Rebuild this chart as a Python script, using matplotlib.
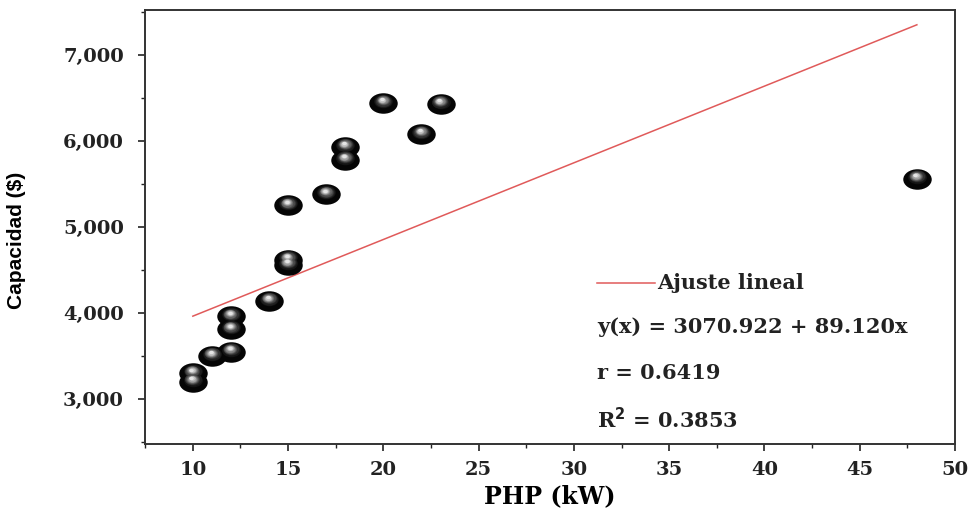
import matplotlib
matplotlib.use("Agg")
import matplotlib.pyplot as plt
import matplotlib.transforms as mtransforms
from matplotlib.path import Path
import numpy as np

# data
php_kw = [10, 10, 11, 12, 12, 12, 14, 15, 15, 15, 17, 18, 18, 20, 22, 23, 48]
capacidad = [3300, 3200, 3500, 3960, 3810, 3550, 4140, 4620, 4560, 5250,
             5380, 5930, 5780, 6440, 6080, 6430, 5560]
fit_a = 3070.922
fit_b = 89.120
fit_x = [10, 48]
x_ticks = [10, 15, 20, 25, 30, 35, 40, 45, 50]
y_ticks = [3000, 4000, 5000, 6000, 7000]

plt.rcParams['font.family'] = ['DejaVu Serif']

fig = plt.figure(figsize=(9.72, 5.15), dpi=100)
ax = fig.add_axes([0.149, 0.138, 0.8335, 0.843])
ax.set_xlim(7.48, 50)
ax.set_ylim(2477, 7523)

# ellipse marker (flattened circle)
circ = Path.unit_circle()
ell = Path(circ.vertices * np.array([1.0, 0.72]), circ.codes)

# fake 3d spheres: black body, then a soft highlight stacked on top
ax.plot(php_kw, capacidad, linestyle='none', marker=ell, markersize=20.5,
        markerfacecolor='#050505', markeredgecolor='none', zorder=3)
n_layers = 9
for i in range(n_layers):
    t = i / (n_layers - 1)
    size = 20.5 * (0.66 - 0.5 * t)
    shade = 0.08 + 0.82 * t ** 1.4
    col = (shade, shade, shade)
    off = mtransforms.ScaledTranslation(-1.0 * t / 72, (1.5 + 1.0 * t) / 72, fig.dpi_scale_trans)
    ax.plot(php_kw, capacidad, linestyle='none', marker=ell, markersize=size,
            markerfacecolor=col, markeredgecolor='none', zorder=4 + i,
            transform=ax.transData + off)

fx = np.array(fit_x)
ax.plot(fx, fit_a + fit_b * fx, color='#e05a5a', lw=1.1, zorder=2)

ax.set_xticks(x_ticks)
ax.set_yticks(y_ticks)
ax.set_xticks(np.arange(7.5, 50.1, 2.5), minor=True)
ax.set_yticks(np.arange(2500, 7501, 500), minor=True)
ax.set_yticklabels(['{:,}'.format(v) for v in y_ticks])
ax.tick_params(which='major', direction='out', length=5, width=1.2, labelsize=14, colors='#222222')
ax.tick_params(axis='y', pad=10)
ax.tick_params(axis='x', pad=7)
ax.tick_params(which='minor', direction='out', length=3, width=1.0, colors='#222222')
for lab in ax.get_xticklabels() + ax.get_yticklabels():
    lab.set_fontweight('bold')
for s in ax.spines.values():
    s.set_linewidth(1.4)
    s.set_color('#333333')

ax.set_xlabel('PHP (kW)', fontsize=17, fontweight='bold')
ax.xaxis.set_label_coords(0.5, -0.093)
ax.set_ylabel('Capacidad (\\$)', fontsize=15, family=['Liberation Sans'], fontweight='bold')
ax.yaxis.set_label_coords(-0.147, 0.47)

# legend-like annotations
W, H = 972, 515
fig.add_artist(plt.Line2D([597 / W, 655 / W], [1 - 283 / H, 1 - 283 / H], color='#e05a5a', lw=1.1))
tkw = dict(fontsize=15, fontweight='bold', va='center', color='#222222')
fig.text(657 / W, 1 - 283 / H, 'Ajuste lineal', **tkw)
fig.text(597 / W, 1 - 327 / H, 'y(x) = 3070.922 + 89.120x', **tkw)
fig.text(597 / W, 1 - 373 / H, 'r = 0.6419', **tkw)
fig.text(597 / W, 1 - 420 / H, 'R$^\\mathbf{2}$ = 0.3853', **tkw)

fig.savefig('out.png', dpi=100)
